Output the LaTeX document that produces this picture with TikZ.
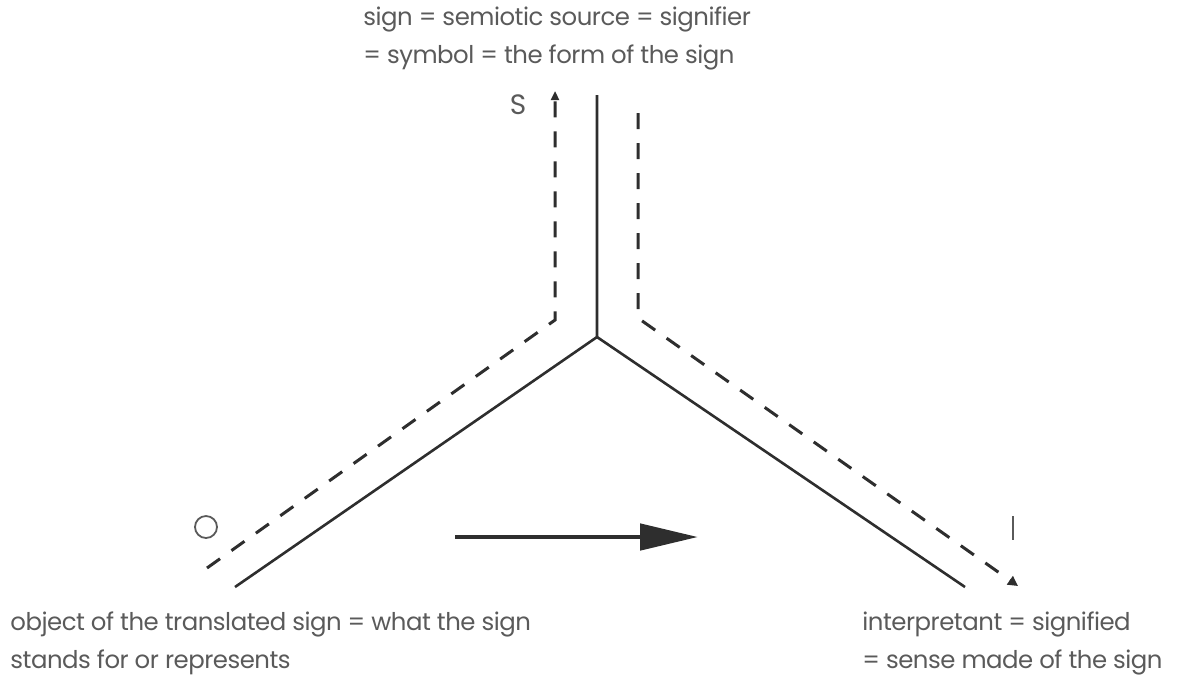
\documentclass[tikz,border=0pt]{standalone}
\usepackage{fontspec}
\setmainfont{Poppins}
\usetikzlibrary{arrows.meta}
\definecolor{ink}{HTML}{2E2E2E}
\definecolor{txt}{HTML}{5A5A5A}
\begin{document}
\begin{tikzpicture}[x=0.5pt,y=-0.5pt,
  label text/.style={text=txt,font=\fontsize{12.2}{19}\selectfont\addfontfeatures{LetterSpace=-2},inner sep=0pt,align=left},
  solidline/.style={draw=ink,line width=1.3pt},
  dashline/.style={draw=ink,line width=1.5pt,dash pattern=on 8pt off 7pt},
  bigarrow/.style={draw=ink,line width=2.4pt,-{Triangle[length=29pt,width=13pt]}}]
\useasboundingbox (0,0) rectangle (1181,677);
% corner points of the three arms
\coordinate (C) at (597,337);
\coordinate (Stop) at (597,95);
\coordinate (Oend) at (235,587);
\coordinate (Iend) at (965,587);
\coordinate (LD1) at (555,91);
\coordinate (LD2) at (555,320);
\coordinate (LD3) at (207,568);
\coordinate (RD1) at (638,113);
\coordinate (RD2) at (638,318);
\coordinate (RD3) at (1018,586);
\coordinate (A1) at (455,537);
\coordinate (A2) at (698,537);
% solid arms
\draw[solidline] (Stop) -- (C) -- (Oend);
\draw[solidline] (C) -- (Iend);
% dashed paths with arrow tips
\draw[dashline,-{Triangle[length=4.5pt,width=4pt]}] (LD3) -- (LD2) -- (LD1);
\draw[dashline,-{Triangle[length=5pt,width=5pt]}] (RD1) -- (RD2) -- (RD3);
% direction arrow
\draw[bigarrow] (A1) -- (A2);
% corner markers
\node[label text,font=\fontsize{14}{14}\selectfont,anchor=center] (S) at (518,105) {S};
\node[draw=txt,circle,line width=0.9pt,minimum size=11pt,inner sep=0pt] (O) at (206,527) {};
\draw[draw=txt,line width=0.9pt] (1013,516) coordinate (Itop) -- (1013,540) coordinate (Ibot);
% captions
\node[label text,anchor=north west] (top) at (363,6) {sign = semiotic source = signifier\\= symbol = the form of the sign};
\node[label text,anchor=north west] (obj) at (10,611) {object of the translated sign = what the sign\\stands for or represents};
\node[label text,anchor=north west] (int) at (862,611) {interpretant = signified\\= sense made of the sign};
\end{tikzpicture}
\end{document}
